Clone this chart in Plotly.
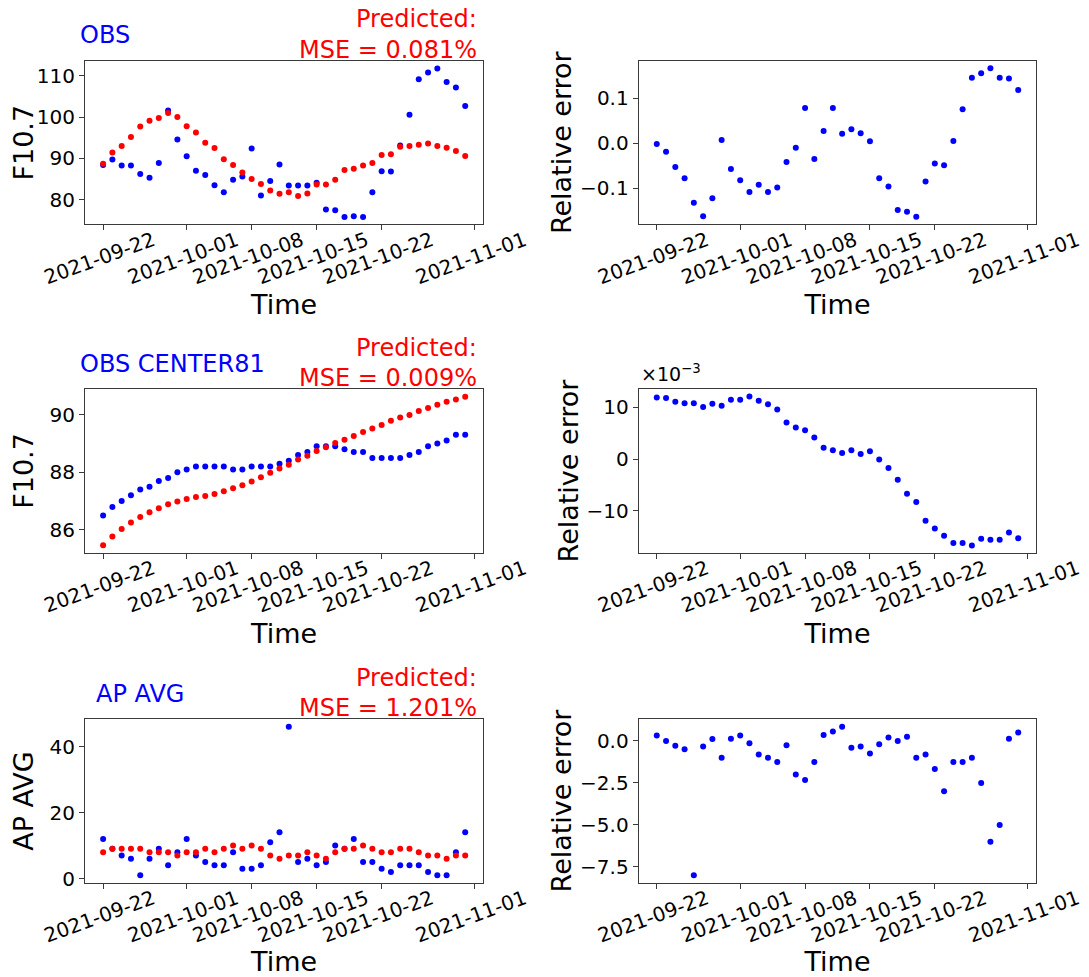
import plotly.graph_objects as go
import pandas as pd

# ---------------- data ----------------
dates = pd.date_range("2021-09-22", periods=40, freq="D")

f107_obs = [88.4, 89.7, 88.3, 88.3, 86.2, 85.3, 88.9, 101.6, 94.6, 90.5,
            87.0, 86.0, 83.5, 81.8, 84.8, 85.6, 92.4, 81.0, 84.5, 88.5,
            83.4, 83.4, 83.4, 84.1, 77.6, 77.4, 75.8, 76.0, 75.8, 81.8,
            86.9, 86.8, 93.1, 100.6, 109.2, 110.8, 111.8, 108.5, 107.2, 102.7]
f107_pred = [88.7, 91.4, 93.0, 95.2, 97.7, 99.1, 99.8, 101.0, 100.0, 97.8,
             96.3, 93.8, 92.5, 89.8, 88.4, 86.6, 85.0, 83.8, 82.2, 81.4,
             81.8, 80.9, 81.5, 83.7, 83.7, 84.8, 87.2, 87.5, 88.3, 88.9,
             90.8, 91.0, 92.8, 93.0, 93.3, 93.6, 93.0, 92.6, 91.8, 90.6]
f107_relerr = [-0.002, -0.019, -0.053, -0.078, -0.132, -0.162, -0.122, 0.007, -0.057, -0.082,
               -0.108, -0.092, -0.108, -0.098, -0.042, -0.010, 0.078, -0.035, 0.027, 0.078,
               0.021, 0.031, 0.022, 0.004, -0.078, -0.096, -0.148, -0.152, -0.163, -0.085,
               -0.045, -0.049, 0.005, 0.075, 0.145, 0.155, 0.166, 0.145, 0.143, 0.118]

center_obs = [86.5, 86.8, 87.0, 87.2, 87.4, 87.5, 87.7, 87.8, 88.0, 88.1,
              88.2, 88.2, 88.2, 88.2, 88.1, 88.1, 88.2, 88.2, 88.2, 88.3,
              88.4, 88.6, 88.7, 88.9, 88.9, 88.9, 88.8, 88.7, 88.7, 88.5,
              88.5, 88.5, 88.5, 88.6, 88.7, 88.9, 89.0, 89.1, 89.3, 89.3]
center_pred = [85.47, 85.77, 86.03, 86.26, 86.45, 86.61, 86.75, 86.89, 86.99, 87.07,
               87.14, 87.18, 87.25, 87.34, 87.45, 87.55, 87.68, 87.83, 87.98, 88.13,
               88.26, 88.44, 88.57, 88.74, 88.87, 89.02, 89.13, 89.26, 89.40, 89.52,
               89.64, 89.79, 89.90, 89.99, 90.13, 90.23, 90.34, 90.45, 90.53, 90.62]
center_relerr = [0.0119, 0.0118, 0.0111, 0.0108, 0.0108, 0.0101, 0.0107, 0.0103, 0.0115, 0.0115,
                 0.0121, 0.0113, 0.0106, 0.0096, 0.0071, 0.0061, 0.0056, 0.0042, 0.0022, 0.0017,
                 0.0012, 0.0017, 0.0010, 0.0015, -0.0001, -0.0017, -0.0040, -0.0067, -0.0083, -0.0119,
                 -0.0134, -0.0148, -0.0162, -0.0162, -0.0167, -0.0154, -0.0156, -0.0156, -0.0142, -0.0153]

ap_obs = [12, 9, 7, 6, 1, 6, 9, 4, 8, 12,
          7, 5, 4, 4, 8, 3, 3, 4, 11, 14,
          46, 5, 6, 4, 5, 10, 9, 12, 5, 5,
          3, 2, 4, 4, 4, 2, 1, 1, 8, 14]
ap_pred = [8, 9, 9, 9, 9, 8, 8, 8, 7, 8,
           8, 9, 8, 9, 10, 9, 10, 9, 7, 6,
           7, 7, 8, 7, 6, 8, 9, 9, 10, 9,
           8, 8, 9, 9, 8, 7, 7, 6, 7, 7]
ap_relerr = [0.33, 0.0, -0.29, -0.5, -8.0, -0.33, 0.11, -1.0, 0.125, 0.33,
             -0.14, -0.8, -1.0, -1.25, -0.25, -2.0, -2.33, -1.25, 0.36, 0.57,
             0.85, -0.4, -0.33, -0.75, -0.2, 0.2, 0.0, 0.25, -1.0, -0.8,
             -1.67, -3.0, -1.25, -1.25, -1.0, -2.5, -6.0, -5.0, 0.125, 0.5]

xtick_vals = ["2021-09-22", "2021-10-01", "2021-10-08", "2021-10-15", "2021-10-22", "2021-11-01"]
x_range = ["2021-09-20 01:12", "2021-11-01 22:48"]

rows = [
    dict(obs=f107_obs, pred=f107_pred, rel=f107_relerr, name="OBS", ylabel="F10.7",
         mse="MSE = 0.081%", yrange=[74.0, 113.6], dtick=10,
         rrange=[-0.180, 0.182], rvals=[-0.1, 0.0, 0.1], rtext=["\u22120.1", "0.0", "0.1"]),
    dict(obs=center_obs, pred=center_pred, rel=center_relerr, name="OBS CENTER81", ylabel="F10.7",
         mse="MSE = 0.009%", yrange=[85.21, 90.88], dtick=2,
         rrange=[-0.0181, 0.0135], rvals=[-0.01, 0.0, 0.01], rtext=["\u221210", "0", "10"]),
    dict(obs=ap_obs, pred=ap_pred, rel=ap_relerr, name="AP AVG", ylabel="AP AVG",
         mse="MSE = 1.201%", yrange=[-1.25, 48.25], dtick=20,
         rrange=[-8.44, 1.29], rvals=[-7.5, -5.0, -2.5, 0.0],
         rtext=["\u22127.5", "\u22125.0", "\u22122.5", "0.0"]),
]

# page body has an 8px margin; figure sized to end exactly at the window edge
OFF = 8
W, H = 1089 - OFF, 977 - OFF


def px(x):
    return (x - OFF) / W


def py(y):
    return 1 - (y - OFF) / H


left_x = [px(85), px(483.3)]
right_x = [px(638.7), px(1036.3)]
row_tops = [61, 389.3, 719.3]
row_h = 163.4

FONT = "DejaVu Sans"
BLUE = "rgb(0,0,255)"
RED = "rgb(255,0,0)"
LINE = "#3a3a3a"

fig = go.Figure()
layout = dict(template="none", width=W, height=H, margin=dict(l=0, r=0, t=0, b=0, pad=0),
              plot_bgcolor="white", paper_bgcolor="white", showlegend=False,
              font=dict(family=FONT, color="black"))
annotations = []


def axis_common():
    return dict(showline=True, mirror=True, linecolor=LINE, linewidth=1,
                ticks="outside", ticklen=5, tickwidth=1, tickcolor=LINE,
                showgrid=False, zeroline=False, automargin=False,
                tickfont=dict(family=FONT, size=20, color="black"))


for r, d in enumerate(rows):
    top = row_tops[r]
    ydom = [py(top + row_h), py(top)]
    li, ri = 2 * r + 1, 2 * r + 2
    lx, ly = f"x{li}", f"y{li}"
    rx, ry = f"x{ri}", f"y{ri}"

    fig.add_trace(go.Scatter(x=dates, y=d["obs"], mode="markers", xaxis=lx, yaxis=ly,
                             marker=dict(color=BLUE, size=6, line=dict(width=0))))
    fig.add_trace(go.Scatter(x=dates, y=d["pred"], mode="markers", xaxis=lx, yaxis=ly,
                             marker=dict(color=RED, size=6, line=dict(width=0))))
    fig.add_trace(go.Scatter(x=dates, y=d["rel"], mode="markers", xaxis=rx, yaxis=ry,
                             marker=dict(color=BLUE, size=6, line=dict(width=0))))

    for idx, xdom, yax in ((li, left_x, ly), (ri, right_x, ry)):
        xa = axis_common()
        xa.update(domain=xdom, anchor=yax, type="date", range=x_range,
                  tickmode="array", tickvals=xtick_vals, ticktext=xtick_vals,
                  tickangle=-20, ticklabelshift=50, ticklabelstandoff=-9,
                  title=dict(text="Time", font=dict(family=FONT, size=27, color="black"),
                             standoff=2))
        layout["xaxis" if idx == 1 else f"xaxis{idx}"] = xa

    ya = axis_common()
    ya.update(domain=ydom, anchor=lx, range=d["yrange"], dtick=d["dtick"], tick0=0,
              title=dict(text=d["ylabel"], font=dict(family=FONT, size=27, color="black"),
                         standoff=8))
    layout["yaxis" if li == 1 else f"yaxis{li}"] = ya

    yb = axis_common()
    yb.update(domain=ydom, anchor=rx, range=d["rrange"], tickmode="array",
              tickvals=d["rvals"], ticktext=d["rtext"],
              title=dict(text="Relative error", font=dict(family=FONT, size=27, color="black"),
                         standoff=0))
    layout[f"yaxis{ri}"] = yb

    # titles above the left panel
    annotations.append(dict(text=d["name"], xref="paper", yref="paper",
                            x=px(78 if r < 2 else 94), y=py(top - 25.5),
                            xanchor="left", yanchor="middle", showarrow=False,
                            font=dict(family=FONT, size=24, color=BLUE)))
    annotations.append(dict(text="Predicted:", xref="paper", yref="paper",
                            x=px(479), y=py(top - 41.5),
                            xanchor="right", yanchor="middle", showarrow=False,
                            font=dict(family=FONT, size=24, color=RED)))
    annotations.append(dict(text=d["mse"], xref="paper", yref="paper",
                            x=px(479), y=py(top - 11),
                            xanchor="right", yanchor="middle", showarrow=False,
                            font=dict(family=FONT, size=24, color=RED)))

# offset text for the scaled middle-right axis
annotations.append(dict(text="\u00d710<sup>\u22123</sup>", xref="paper", yref="paper",
                        x=px(639), y=py(387), xanchor="left", yanchor="bottom",
                        showarrow=False, font=dict(family=FONT, size=19, color="black")))

layout["annotations"] = annotations
fig.update_layout(**layout)
fig.write_html("out.html")
